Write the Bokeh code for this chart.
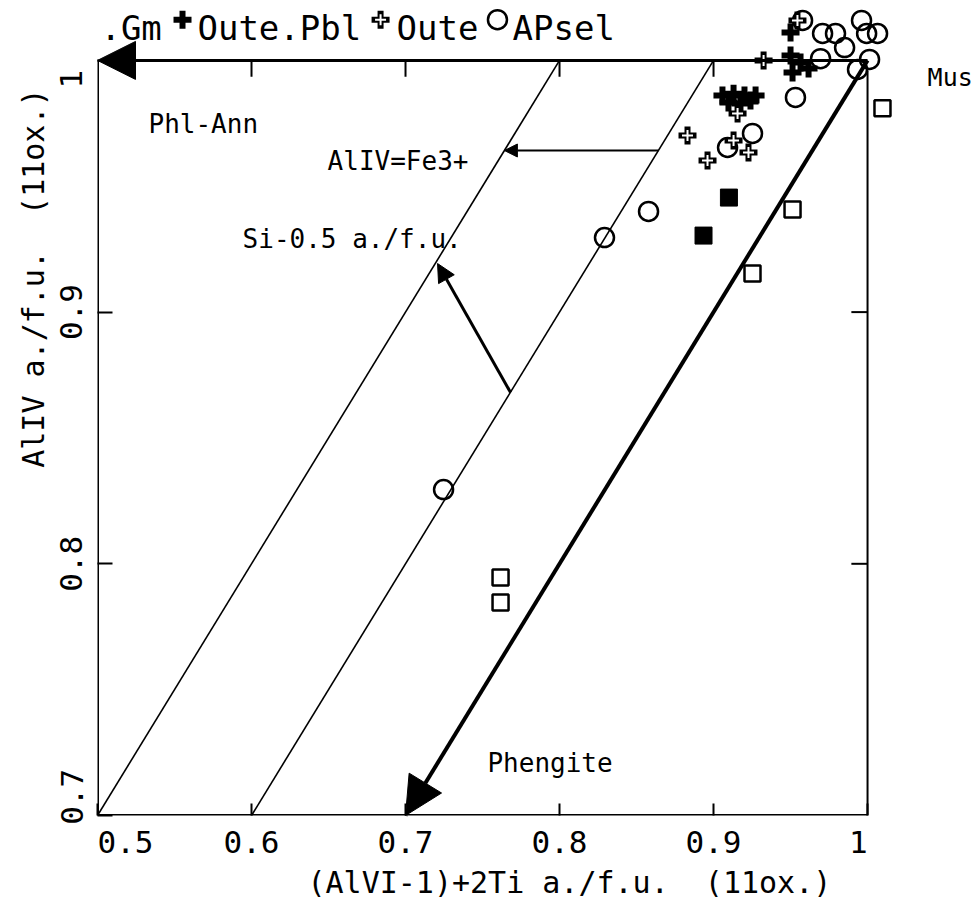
import math
from bokeh.plotting import figure
from bokeh.models import Range1d, FixedTicker, Arrow, NormalHead, Label, Title
from bokeh.embed import file_html
from bokeh.resources import INLINE

NB = "\u00a0"

# ---------------- data ----------------
x_ticks = [0.5, 0.6, 0.7, 0.8, 0.9, 1.0]
x_tick_labels = [NB * 3 + "0.5", "0.6", "0.7", "0.8", "0.9", "1" + NB]
y_ticks = [0.7, 0.8, 0.9, 1.0]
y_tick_labels = [NB * 2 + "0.7", "0.8", "0.9", "1" + NB * 2]

x_title = "(AlVI-1)+2Ti a./f.u." + NB + " (11ox.)"
y_title = "AlIV a./f.u." + NB + " (11ox.)"

# AlIV - [(AlVI-1)+2Ti] offsets of the thin guide lines
guide_offsets = [0.2, 0.1]

# APsel (open circles)
circle_x = [0.7247, 0.8292, 0.8578, 0.9091, 0.9253, 0.9532, 0.9578, 0.9961,
            0.9708, 0.9792, 0.9994, 1.0065, 0.9851, 0.9695, 1.0013, 0.9935]
circle_y = [0.8295, 0.9296, 0.9400, 0.9654, 0.9710, 0.9853, 1.0159, 1.0159,
            1.0107, 1.0107, 1.0107, 1.0107, 1.0051, 1.0007, 1.0004, 0.9964]

# open squares
osq_x = [1.0097, 0.9513, 0.9253, 0.7617, 0.7617]
osq_y = [0.9810, 0.9408, 0.9153, 0.7946, 0.7846]

# filled squares
fsq_x = [0.9100, 0.8935]
fsq_y = [0.9455, 0.9304]

# Oute (open crosses)
ocr_x = [0.8831, 0.8961, 0.9130, 0.9227, 0.9156, 0.9325, 0.9545]
ocr_y = [0.9702, 0.9602, 0.9682, 0.9634, 0.9789, 1.0000, 1.0159]

# Oute.Pbl (filled crosses)
fcr_x = [0.9058, 0.9130, 0.9201, 0.9273, 0.9097, 0.9175, 0.9240,
         0.9500, 0.9500, 0.9565, 0.9513, 0.9617]
fcr_y = [0.9861, 0.9868, 0.9861, 0.9861, 0.9833, 0.9829, 0.9841,
         1.0111, 1.0019, 0.9992, 0.9952, 0.9968]

# vector arrows
fe3_arrow_y = 0.9642
si_arrow_x = [0.7682, 0.7208]
si_arrow_y = [0.8681, 0.9193]

legend_labels = [".Gm", "Oute.Pbl", "Oute", "APsel"]

FONT = "DejaVu Sans Mono"

# ---------------- figure ----------------
p = figure(width=975, height=903, title=None,
           x_range=Range1d(0.5, 1.0701), y_range=Range1d(0.7, 1.0238),
           output_backend="svg", toolbar_location=None,
           min_border_left=97, min_border_right=0, min_border_top=0,
           min_border_bottom=88)
p.outline_line_color = None
p.xgrid.grid_line_color = None
p.ygrid.grid_line_color = None
p.background_fill_color = "white"

xa = p.xaxis[0]
xa.ticker = FixedTicker(ticks=x_ticks)
xa.major_label_overrides = dict(zip(x_ticks, x_tick_labels))
ya = p.yaxis[0]
ya.ticker = FixedTicker(ticks=y_ticks)
ya.major_label_overrides = dict(zip(y_ticks, y_tick_labels))
ya.major_label_orientation = "vertical"
for ax in (xa, ya):
    ax.axis_line_color = None
    ax.major_tick_out = 0
    ax.major_tick_line_width = 2
    ax.major_tick_line_color = "black"
    ax.minor_tick_line_color = None
    ax.major_label_text_font = FONT
    ax.major_label_text_font_size = "31px"
    ax.major_label_text_color = "black"
xa.major_tick_in = 12
xa.major_label_standoff = 8
ya.major_tick_in = 15
ya.major_label_standoff = 8

# axis titles as side titles (so they can be shifted like the original)
p.add_layout(Title(text=x_title, align="left", offset=210, standoff=0,
                   text_font=FONT, text_font_size="30px",
                   text_font_style="normal", text_color="black"), "below")
p.add_layout(Title(text=y_title, align="right", offset=88, standoff=0,
                   text_font=FONT, text_font_size="30px",
                   text_font_style="normal", text_color="black"), "left")

x0, x1 = x_ticks[0], x_ticks[-1]
y0, y1 = y_ticks[0], y_ticks[-1]

# frame borders
p.line([x0, x0], [y0, y1], line_color="black", line_width=3)
p.line([x0, x1], [y0, y0], line_color="black", line_width=3)
p.line([x1, x1], [y0, y1 - 0.004], line_color="black", line_width=2)

# ticks on top and right (inward)
top_t = x_ticks[1:-1]
p.segment(x0=top_t, y0=[y1] * len(top_t), x1=top_t, y1=[y1 - 0.0065] * len(top_t),
          line_color="black", line_width=2)
right_t = y_ticks[1:-1]
p.segment(x0=[x1] * len(right_t), y0=right_t, x1=[x1 - 0.0105] * len(right_t), y1=right_t,
          line_color="black", line_width=2)

# thin guide lines
for off in guide_offsets:
    p.line([y0 - off, y1 - off], [y0, y1], line_color="black", line_width=1.6)

# arrows
p.add_layout(Arrow(end=NormalHead(size=38, fill_color="black", line_color="black"),
                   x_start=x1, y_start=y1, x_end=x0, y_end=y1,
                   line_color="black", line_width=3))
p.add_layout(Arrow(end=NormalHead(size=38, fill_color="black", line_color="black"),
                   x_start=x1, y_start=y1, x_end=y0, y_end=y0,
                   line_color="black", line_width=4))
p.add_layout(Arrow(end=NormalHead(size=13, fill_color="black", line_color="black"),
                   x_start=fe3_arrow_y - guide_offsets[1], y_start=fe3_arrow_y,
                   x_end=fe3_arrow_y - guide_offsets[0], y_end=fe3_arrow_y,
                   line_color="black", line_width=2))
p.add_layout(Arrow(end=NormalHead(size=18, fill_color="black", line_color="black"),
                   x_start=si_arrow_x[0], y_start=si_arrow_y[0],
                   x_end=si_arrow_x[1], y_end=si_arrow_y[1],
                   line_color="black", line_width=3))

# legend row along the top (marker + label pairs)
ly, my = 1.0127, 1.0162
leg_fcr_x, leg_ocr_x, leg_cir_x = [0.5552], [0.6838], [0.7597]

# markers
p.scatter(osq_x, osq_y, marker="square", size=16, line_color="black",
          line_width=2.5, fill_color=None)
p.scatter(fsq_x, fsq_y, marker="square", size=17, line_color="black",
          fill_color="black")
p.scatter(circle_x + leg_cir_x, circle_y + [my], marker="circle", size=19,
          line_color="black", line_width=2.5, fill_color=None)
p.scatter(fcr_x + leg_fcr_x, fcr_y + [my], marker="cross", size=18,
          line_color="black", line_width=6)
p.scatter(ocr_x + leg_ocr_x, ocr_y + [my], marker="cross", size=18,
          line_color="black", line_width=6)
p.scatter(ocr_x + leg_ocr_x, ocr_y + [my], marker="cross", size=11,
          line_color="white", line_width=2)

# text annotations
def lab(text, x, y, size="26px", align="left", baseline="alphabetic", font=FONT):
    p.add_layout(Label(x=x, y=y, text=text, text_font=font, text_font_size=size,
                       text_align=align, text_baseline=baseline,
                       text_color="black"))

lab("Phl-Ann", 0.5331, 0.9749)
lab("AlIV=Fe3+", 0.6494, 0.9602)
lab("Si-0.5 a./f.u.", 0.5942, 0.9292)
lab("Phengite", 0.7532, 0.7207)
lab("Mus", 1.0390, 0.9932, size="25px")

lab(legend_labels[0], 0.5019, ly, size="34px")
lab(legend_labels[1], 0.5649, ly, size="34px")
lab(legend_labels[2], 0.6942, ly, size="34px")
lab(legend_labels[3], 0.7695, ly, size="34px")

open("out.html", "w").write(file_html(p, INLINE))
